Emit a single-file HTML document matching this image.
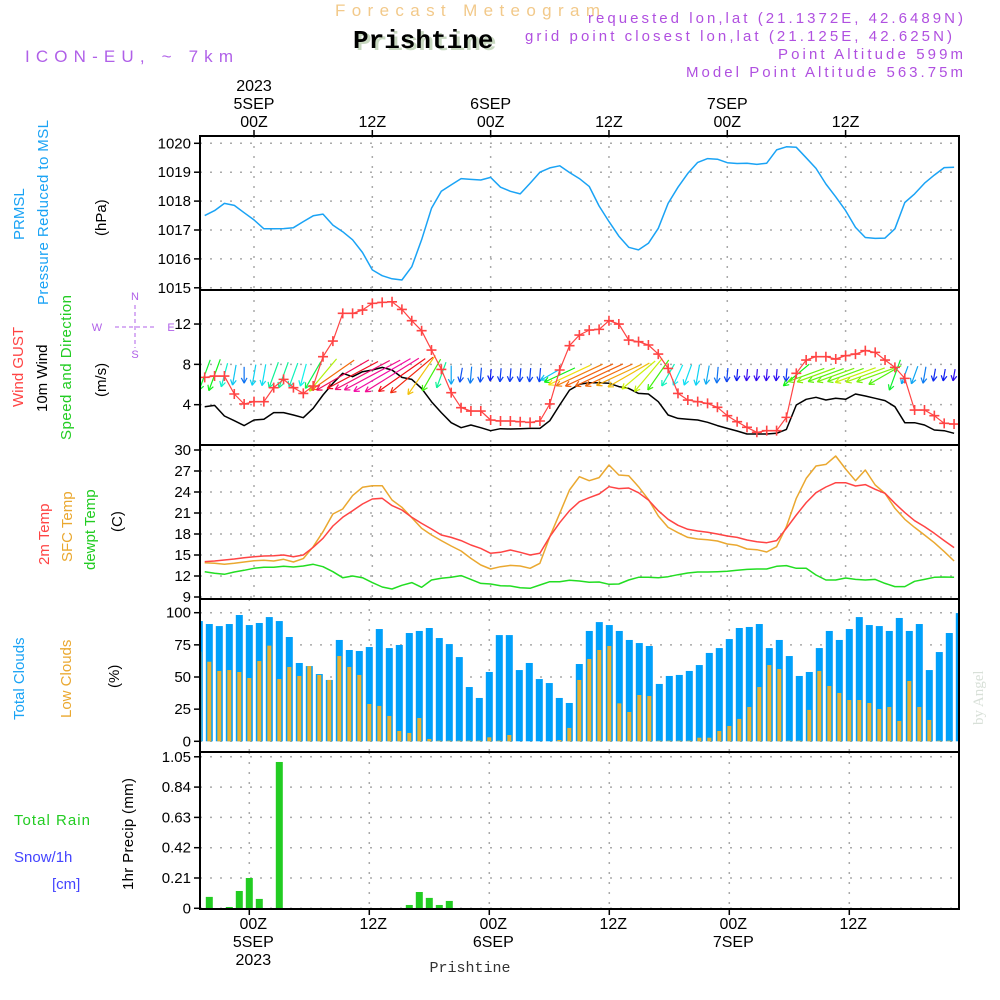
<!DOCTYPE html>
<html><head><meta charset="utf-8">
<style>
html,body{margin:0;padding:0;background:#fff;}
svg{display:block;font-family:"Liberation Sans",sans-serif;}
</style></head>
<body>
<svg id="chart" width="1000" height="1000" viewBox="0 0 1000 1000" xmlns="http://www.w3.org/2000/svg">
<defs><clipPath id="plotclip"><rect x="201" y="136" width="757" height="773"/></clipPath></defs>
<rect x="0" y="0" width="1000" height="1000" fill="#fff"/>
<text x="335" y="16" font-size="17" fill="#f2c98a" textLength="265" lengthAdjust="spacing">Forecast Meteogram</text>
<text x="356" y="50" font-size="26" font-weight="bold" font-family="Liberation Mono, monospace" fill="#c8d8c0">Prishtine</text>
<text x="353" y="48" font-size="26" font-weight="bold" font-family="Liberation Mono, monospace" fill="#000">Prishtine</text>
<text x="25" y="62" font-size="17" fill="#b060e8" textLength="208" lengthAdjust="spacing">ICON-EU, ~ 7km</text>
<g font-size="15" fill="#b050e0" text-anchor="end">
<text x="963" y="23" textLength="375" lengthAdjust="spacing">requested lon,lat (21.1372E, 42.6489N)</text>
<text x="952" y="41" textLength="427" lengthAdjust="spacing">grid point closest lon,lat (21.125E, 42.625N)</text>
<text x="963" y="59" textLength="185" lengthAdjust="spacing">Point Altitude 599m</text>
<text x="963" y="77" textLength="277" lengthAdjust="spacing">Model Point Altitude 563.75m</text>
</g>
<g id="grid"></g>
<g id="marks" clip-path="url(#plotclip)"></g>
<g id="frames"></g>
<g id="labels" font-size="15" fill="#000"></g>
<g font-size="15">
<text transform="translate(24,240) rotate(-90)" fill="#1aa3f5">PRMSL</text>
<text transform="translate(48,305) rotate(-90)" fill="#1aa3f5" textLength="185">Pressure Reduced to MSL</text>
<text transform="translate(106,236) rotate(-90)" fill="#000">(hPa)</text>
<text transform="translate(23,407) rotate(-90)" fill="#ff4444">Wind GUST</text>
<text transform="translate(47,412) rotate(-90)" fill="#000">10m Wind</text>
<text transform="translate(71,440) rotate(-90)" fill="#22cc22" textLength="145">Speed and Direction</text>
<text transform="translate(106,397) rotate(-90)" fill="#000">(m/s)</text>
<text transform="translate(49,565) rotate(-90)" fill="#ff4444">2m Temp</text>
<text transform="translate(72,562) rotate(-90)" fill="#eaa830">SFC Temp</text>
<text transform="translate(95,570) rotate(-90)" fill="#22cc22">dewpt Temp</text>
<text transform="translate(122,532) rotate(-90)" fill="#000">(C)</text>
<text transform="translate(24,720) rotate(-90)" fill="#1aa3f5">Total Clouds</text>
<text transform="translate(71,718) rotate(-90)" fill="#eaa830">Low Clouds</text>
<text transform="translate(119,688) rotate(-90)" fill="#000">(%)</text>
<text transform="translate(133,890) rotate(-90)" fill="#000" textLength="112">1hr Precip (mm)</text>
<text x="14" y="825" fill="#22cc22" textLength="76" lengthAdjust="spacing">Total  Rain</text>
<text x="14" y="862" fill="#4444ff">Snow/1h</text>
<text x="52" y="889" fill="#4444ff">[cm]</text>
</g>
<g font-size="11" fill="#b060e8" stroke="none">
<text x="135" y="300" text-anchor="middle">N</text>
<text x="135" y="358" text-anchor="middle">S</text>
<text x="97" y="331" text-anchor="middle">W</text>
<text x="171" y="331" text-anchor="middle">E</text>
<line x1="115" y1="327" x2="155" y2="327" stroke="#b060e8" stroke-dasharray="4,3"/>
<line x1="135" y1="305" x2="135" y2="348" stroke="#b060e8" stroke-dasharray="4,3"/>
</g>
<text transform="translate(983,725) rotate(-90)" font-size="15" font-family="Liberation Serif, serif" fill="#d8e0d8">by Angel</text>
<text x="470" y="972" font-size="15" font-family="Liberation Mono, monospace" text-anchor="middle" fill="#333">Prishtine</text>

<script>
const startHour = -5;
const pressure = [1017.50,1017.67,1017.92,1017.85,1017.60,1017.35,1017.04,1017.04,1017.05,1017.08,1017.29,1017.49,1017.55,1017.17,1016.94,1016.66,1016.22,1015.62,1015.42,1015.31,1015.27,1015.73,1016.66,1017.75,1018.34,1018.56,1018.78,1018.75,1018.73,1018.82,1018.48,1018.34,1018.25,1018.62,1019.0,1019.15,1019.22,1018.99,1018.78,1018.51,1017.83,1017.29,1016.79,1016.40,1016.31,1016.54,1017.06,1017.92,1018.48,1018.96,1019.34,1019.47,1019.45,1019.33,1019.30,1019.31,1019.27,1019.31,1019.77,1019.88,1019.86,1019.50,1019.13,1018.59,1018.15,1017.67,1017.09,1016.74,1016.71,1016.72,1017.04,1017.95,1018.25,1018.62,1018.90,1019.16,1019.17];
const windGust = [6.71,6.84,6.84,5.06,4.07,4.30,4.30,5.69,6.51,5.69,5.12,5.85,8.76,10.31,13.06,13.06,13.39,14.05,14.15,14.21,13.45,12.33,11.34,9.42,7.50,5.19,3.70,3.37,3.37,2.48,2.38,2.38,2.31,2.25,2.38,4.07,7.44,9.85,10.91,11.40,11.47,12.33,12.0,10.41,10.25,9.92,9.02,7.60,5.12,4.46,4.30,4.13,3.74,2.91,2.31,1.75,1.26,1.42,1.42,2.74,7.11,8.43,8.76,8.76,8.53,8.86,9.02,9.36,9.19,8.43,7.70,6.61,3.47,3.47,2.91,2.15,2.08];
const wind10m = [3.80,3.93,2.88,2.41,1.92,2.48,2.55,3.21,3.21,2.98,2.71,3.64,4.96,6.12,7.11,6.78,7.27,7.44,7.70,7.44,6.71,6.51,5.62,4.30,3.21,2.21,1.72,1.98,1.72,1.42,1.62,1.59,1.62,1.65,1.65,2.41,3.97,5.45,6.02,6.18,6.18,6.12,5.79,5.62,5.12,5.06,4.30,2.98,2.64,2.55,2.48,2.25,1.92,1.65,1.39,1.09,1.09,1.09,1.16,1.55,3.97,4.53,4.73,4.46,4.63,4.53,5.06,4.86,4.63,4.40,3.80,2.21,2.21,1.98,1.49,1.42,1.16];
const windDir = [20,20,15,10,0,10,10,20,20,20,15,30,40,55,60,62,62,62,60,58,55,50,35,30,20,0,10,5,5,5,5,5,5,5,5,60,65,65,65,65,65,65,65,60,50,40,35,30,25,20,10,10,5,5,5,5,5,5,5,5,50,70,70,70,70,70,70,70,70,60,20,20,20,10,10,10,10];
const temp2m = [14.05,14.14,14.29,14.43,14.62,14.76,14.86,14.90,15.0,14.76,15.0,16.10,17.38,19.14,20.38,21.33,22.29,23.0,23.10,22.05,21.43,20.38,19.52,18.71,17.86,17.52,17.05,16.43,15.95,15.24,15.38,15.71,15.38,15.0,15.24,17.62,19.62,21.33,22.62,23.19,23.71,24.76,24.48,24.57,23.90,22.86,21.33,20.10,19.24,18.67,18.43,18.24,18.0,17.71,17.52,17.14,16.90,16.76,17.05,18.81,20.71,22.48,23.90,24.71,25.33,25.33,24.86,25.05,24.38,23.81,22.38,21.05,19.90,19.05,18.10,17.05,16.05];
const tempSfc = [13.90,13.81,13.67,13.81,14.0,14.19,14.24,14.14,14.38,14.0,14.48,16.19,18.33,20.86,21.57,23.48,24.67,24.90,24.90,22.86,21.81,20.33,18.81,17.86,17.05,16.29,15.57,14.52,13.57,13.0,13.33,13.52,13.43,13.10,13.81,17.62,20.95,24.29,26.19,25.62,26.05,27.86,26.43,26.33,24.76,22.95,20.57,18.95,18.19,17.52,17.29,17.19,17.0,16.57,16.38,15.86,15.76,15.43,16.19,19.05,23.10,25.95,27.71,27.95,29.14,27.29,25.62,27.14,25.0,23.81,21.67,20.10,18.95,17.86,16.76,15.48,14.14];
const dewpt = [12.62,12.38,12.24,12.57,12.81,13.10,13.24,13.24,13.38,13.29,13.43,13.67,13.33,12.62,11.76,12.0,11.76,11.05,10.43,10.14,10.67,11.05,10.38,11.43,11.67,11.81,12.05,11.52,10.95,10.86,10.62,10.57,10.33,10.24,10.71,11.19,11.19,11.38,11.29,11.10,11.14,10.81,10.86,11.43,11.81,11.81,11.76,11.90,12.19,12.43,12.57,12.57,12.62,12.67,12.81,12.95,13.0,13.0,13.38,13.48,13.10,13.10,12.14,11.43,11.43,11.71,11.52,11.43,11.52,10.95,10.48,10.48,11.24,11.52,11.81,11.86,11.81];
const totalClouds = [93.5,91.2,89.6,91.2,98.2,90.4,92.0,96.6,93.5,81.1,60.9,58.5,52.3,47.7,78.8,71.0,70.2,73.3,87.3,72.5,74.9,84.2,85.8,88.1,80.3,75.6,65.5,42.2,33.7,53.9,82.6,82.6,55.4,60.9,48.4,45.3,33.7,29.8,60.1,85.8,92.7,90.4,85.8,78.8,76.4,74.1,44.6,50.8,51.6,54.7,59.3,68.7,72.5,79.5,88.1,88.9,91.2,72.5,78.8,66.3,50.8,53.9,72.5,85.8,78.8,87.3,96.6,90.4,89.6,85.8,95.9,85.8,91.2,55.4,69.4,84.2,99.7];
const lowClouds = [69.7,61.9,54.7,55.4,53.9,49.2,62.4,74.4,48.4,57.8,50.8,58.5,51.6,47.7,66.3,57.8,51.6,29.0,27.5,19.7,8.0,6.5,18.1,1.8,0.5,0.5,0.5,0.5,0.5,3.1,0.5,4.9,0,0,0,0,1.0,10.4,47.7,64.0,71.0,74.1,29.5,22.8,36.0,35.2,0.5,0.5,0.5,0.5,2.8,2.8,8.0,11.9,17.4,26.7,42.2,59.3,56.2,0.5,0.5,24.4,54.7,43.0,37.6,32.1,32.1,29.8,25.1,26.7,15.8,46.9,26.7,16.6,0.5,0.5,0];
const precip = [0,0.079,0,0.009,0.12,0.21,0.065,0,1.014,0,0,0,0,0,0,0,0,0,0,0,0,0.023,0.113,0.072,0.023,0.051,0,0,0,0,0,0,0,0,0,0,0,0,0,0,0,0,0,0,0,0,0,0,0,0,0,0,0,0,0,0,0,0,0,0,0,0,0,0,0,0,0,0,0,0,0,0,0,0,0,0,0];
const pressureTicks = [1015,1016,1017,1018,1019,1020];
const windTicks = [4,8,12];
const tempTicks = [9,12,15,18,21,24,27,30];
const cloudTicks = [0,25,50,75,100];
const precipTicks = [0,0.21,0.42,0.63,0.84,1.05];
const timeTickHours = [0,12,24,36,48,60];
const timeTickLabels = ["00Z","12Z","00Z","12Z","00Z","12Z"];
const dayLabels = {0:["2023","5SEP"],24:["6SEP"],48:["7SEP"]};

const XL = 200, XR = 959;
const xTop = h => 254 + 9.86*h;
const xBot = h => 249.3 + 10*h;
const yP = v => 143.3 + (1020 - v)*28.9;
const yW = v => 445 - v*10.08;
const yT = v => 450 + (30 - v)*7;
const yC = v => 741.3 - v*1.286;
const yR = v => 908.3 - v*144.3;
const panels = [[136,290],[290,445],[445,599],[599,752],[752,909]];

const NS = "http://www.w3.org/2000/svg";
function mk(tag, attrs, parent){ const e=document.createElementNS(NS,tag); for(const k in attrs) e.setAttribute(k,attrs[k]); parent.appendChild(e); return e; }
const grid = document.getElementById('grid'), marks = document.getElementById('marks'), frames = document.getElementById('frames'), labels = document.getElementById('labels');

function hgrid(ticks, yf, fmt, name){
  ticks.forEach(t=>{
    const y=yf(t);
    const l=mk('line',{x1:XL,x2:XR,y1:y,y2:y,stroke:'#aaa','stroke-width':1.5,'stroke-dasharray':'2,8'},grid);
    
    
    const tk=mk('line',{x1:XL-6,x2:XL,y1:y,y2:y,stroke:'#000','stroke-width':1.5},frames);
    
    
    const tx=mk('text',{x:XL-9,y:y+5,'text-anchor':'end'},labels);
    
    
    tx.textContent=fmt(t);
  });
}
hgrid(pressureTicks,yP,t=>String(t),'pressure-y');
hgrid(windTicks,yW,t=>String(t),'wind-y');
hgrid(tempTicks,yT,t=>String(t),'temp-y');
hgrid(cloudTicks,yC,t=>String(t),'cloud-y');
hgrid(precipTicks,yR,t=>t===0?'0':t.toFixed(2),'precip-y');

panels.forEach((p,i)=>{
  const xf = i<3 ? xTop : xBot;
  timeTickHours.forEach(h=>{
    const l=mk('line',{x1:xf(h),x2:xf(h),y1:p[0],y2:p[1],stroke:'#aaa','stroke-width':1.5,'stroke-dasharray':'2,8'},grid);
    
    
  });
});
timeTickHours.forEach((h,i)=>{
  const xt=xTop(h);
  const t1=mk('text',{x:xt,y:127,'text-anchor':'middle','font-size':16},labels);
  
  
  t1.textContent=timeTickLabels[i];
  mk('line',{x1:xt,x2:xt,y1:130,y2:136,stroke:'#000','stroke-width':1.5},frames);
  const xb=xBot(h)+4;
  const t2=mk('text',{x:xb,y:929,'text-anchor':'middle','font-size':16},labels);
  
  
  t2.textContent=timeTickLabels[i];
  mk('line',{x1:xBot(h),x2:xBot(h),y1:909,y2:915,stroke:'#000','stroke-width':1.5},frames);
  if(dayLabels[h]){
    const d=dayLabels[h];
    d.forEach((s,j)=>{
      const ty=mk('text',{x:xt,y:127-18*(d.length-j),'text-anchor':'middle','font-size':16},labels);
      
      
      ty.textContent=s;
    });
    const rev=[d[d.length-1]].concat(d.length>1?[d[0]]:[]);
    rev.forEach((s,j)=>{
      const tb=mk('text',{x:xb,y:947+18*j,'text-anchor':'middle','font-size':16},labels);
      
      
      tb.textContent=s;
    });
  }
});

function line(arr, xf, yf, color, name, w){
  const pts=arr.map((v,i)=>xf(startHour+i).toFixed(1)+','+yf(v).toFixed(1)).join(' ');
  const p=mk('polyline',{points:pts,fill:'none',stroke:color,'stroke-width':w||1.5,'stroke-linejoin':'round'},marks);
  
  
}
totalClouds.forEach((v,i)=>{
  const x=xBot(startHour+i);
  const r=mk('rect',{x:x-3.5,y:yC(v),width:7,height:yC(0)-yC(v),fill:'#00a0fa'},marks);
  
  
});
lowClouds.forEach((v,i)=>{
  const x=xBot(startHour+i);
  const r=mk('rect',{x:x-2,y:yC(v),width:4,height:yC(0)-yC(v),fill:'#e8b030'},marks);
  
  
});
precip.forEach((v,i)=>{
  if(v<=0) return;
  const x=xBot(startHour+i);
  const r=mk('rect',{x:x-3.5,y:yR(v),width:7,height:yR(0)-yR(v),fill:'#22cc22'},marks);
  
  
});
line(pressure,xTop,yP,'#1aa3f5','pressure-line');
line(wind10m,xTop,yW,'#000','wind-10m-line');
function hueFor(s){ let h=300-45*s; if(h<-40) h=-40; return (h+360)%360; }
windDir.forEach((d,i)=>{
  const s=wind10m[i]; const x=xTop(startHour+i), yc=375;
  const len=Math.max(12, s*8.5); const a=(d+180)*Math.PI/180;
  const dx=Math.sin(a)*len, dy=-Math.cos(a)*len;
  const x1=x-dx/2, y1=yc-dy/2, x2=x+dx/2, y2=yc+dy/2;
  const col='hsl('+hueFor(s)+',90%,50%)';
  const g=mk('g',{stroke:col,'stroke-width':1.2,fill:'none'},marks);
  
  
  mk('line',{x1:x1,y1:y1,x2:x2,y2:y2},g);
  const ang=Math.atan2(y2-y1,x2-x1);
  [0.5,-0.5].forEach(o=>{ mk('line',{x1:x2,y1:y2,x2:x2-6*Math.cos(ang+o),y2:y2-6*Math.sin(ang+o)},g); });
});
line(windGust,xTop,yW,'#ff4444','wind-gust-line',1.2);
windGust.forEach((v,i)=>{
  const x=xTop(startHour+i), y=yW(v);
  const p=mk('path',{d:`M${x-5},${y}H${x+5}M${x},${y-5}V${y+5}`,stroke:'#ff4444','stroke-width':1.6},marks);
  
  
});
line(dewpt,xTop,yT,'#22dd22','dewpoint-line');
line(tempSfc,xTop,yT,'#eaa830','sfc-temp-line');
line(temp2m,xTop,yT,'#ff4444','temp-2m-line');

panels.forEach((p,i)=>{
  const r=mk('rect',{x:XL,y:p[0],width:XR-XL,height:p[1]-p[0],fill:'none',stroke:'#000','stroke-width':2},frames);
  
  
});
</script>
</svg>
</body></html>
